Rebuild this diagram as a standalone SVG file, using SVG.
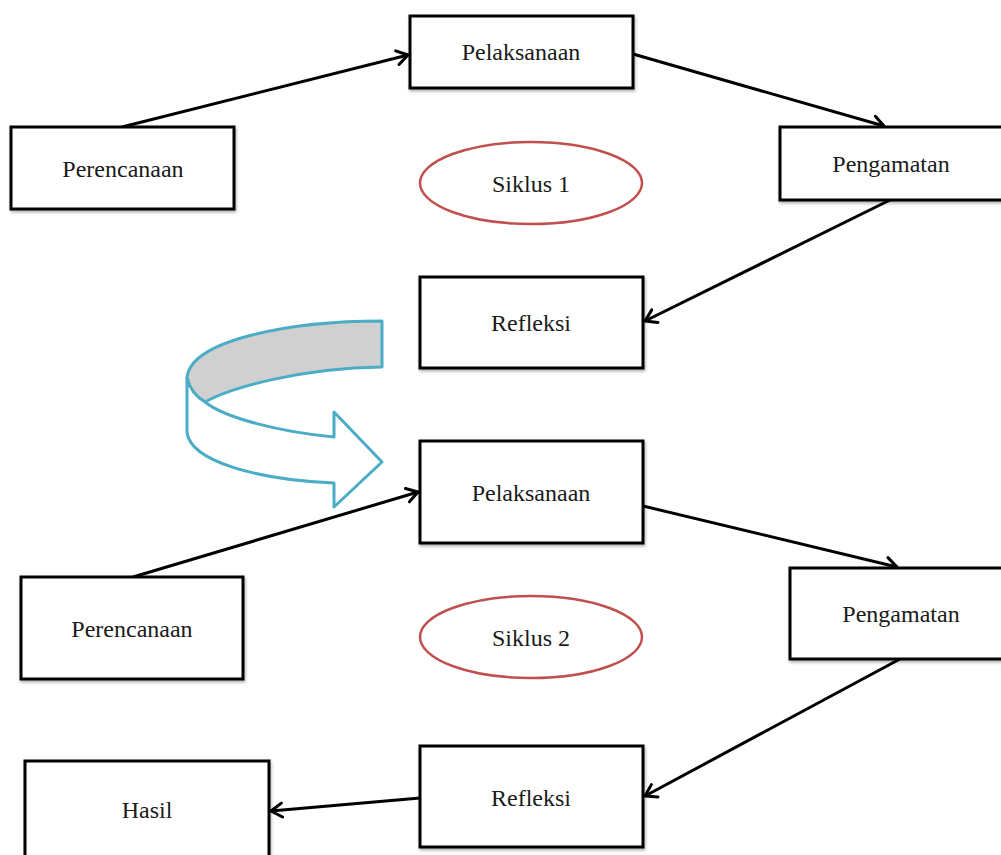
<svg xmlns="http://www.w3.org/2000/svg" width="1001" height="855" viewBox="0 0 1001 855">
<defs>
<style>
.box{fill:#fff;stroke:#000;stroke-width:3;filter:url(#sh)}
.t{font-family:"Liberation Serif","Times New Roman",serif;font-size:24px;text-anchor:middle;fill:#1a1a1a}
.ell{fill:#fff;stroke:#C0504D;stroke-width:2.5}
.con{fill:none;stroke:#000;stroke-width:3;marker-end:url(#ah)}
.rib{stroke:#4BACC6;stroke-width:3;stroke-linejoin:round}
</style>
<filter id="sh" x="-10%" y="-10%" width="120%" height="130%">
<feDropShadow dx="1" dy="2" stdDeviation="1.5" flood-color="#000" flood-opacity="0.3"/>
</filter>
<marker id="ah" markerWidth="18" markerHeight="18" refX="14" refY="9" orient="auto" markerUnits="userSpaceOnUse">
<path d="M3,2 L14,9 L3,16" fill="none" stroke="#000" stroke-width="3" stroke-linecap="round" stroke-linejoin="round"/>
</marker>
</defs>
<rect width="1001" height="855" fill="#fff"/>
<g id="connectors">
<line class="con" x1="122" y1="127" x2="408" y2="55"/>
<line class="con" x1="633" y1="54" x2="884" y2="126"/>
<line class="con" x1="890" y1="200" x2="645" y2="321"/>
<line class="con" x1="133" y1="577" x2="418" y2="492"/>
<line class="con" x1="643" y1="506" x2="897" y2="567"/>
<line class="con" x1="900" y1="659" x2="645" y2="796"/>
<line class="con" x1="420" y1="798" x2="271" y2="811"/>
</g>
<g id="pelaksanaan1"><rect class="box" x="410" y="16" width="223" height="72"/><text class="t" x="521" y="60">Pelaksanaan</text></g>
<g id="perencanaan1"><rect class="box" x="11" y="127" width="223" height="82"/><text class="t" x="123" y="177">Perencanaan</text></g>
<g id="pengamatan1"><rect class="box" x="780" y="127" width="223" height="73"/><text class="t" x="891" y="172">Pengamatan</text></g>
<g id="siklus1"><ellipse class="ell" cx="531" cy="183" rx="111" ry="41"/><text class="t" x="531" y="192">Siklus 1</text></g>
<g id="refleksi1"><rect class="box" x="420" y="277" width="223" height="91"/><text class="t" x="531" y="331">Refleksi</text></g>
<g id="curved-arrow">
<path class="rib" fill="#D0D0D0" d="M382,321 C290,321 190,340 187,378 C190,390 198,398 205,402 C230,388 300,368 382,367 Z"/>
<path class="rib" fill="#fff" d="M187,378 L187,432 C190,462 260,480 334,483 L334,507 L382,462 L334,412 L334,437 C280,432 225,418 205,402 C198,398 190,390 187,378 Z"/>
</g>
<g id="pelaksanaan2"><rect class="box" x="420" y="441" width="223" height="102"/><text class="t" x="531" y="501">Pelaksanaan</text></g>
<g id="perencanaan2"><rect class="box" x="21" y="577" width="222" height="102"/><text class="t" x="132" y="637">Perencanaan</text></g>
<g id="pengamatan2"><rect class="box" x="790" y="568" width="213" height="91"/><text class="t" x="901" y="622">Pengamatan</text></g>
<g id="siklus2"><ellipse class="ell" cx="531" cy="637" rx="111" ry="41"/><text class="t" x="531" y="646">Siklus 2</text></g>
<g id="refleksi2"><rect class="box" x="420" y="746" width="223" height="101"/><text class="t" x="531" y="806">Refleksi</text></g>
<g id="hasil"><rect class="box" x="25" y="761" width="244" height="100"/><text class="t" x="147" y="818">Hasil</text></g>
</svg>
